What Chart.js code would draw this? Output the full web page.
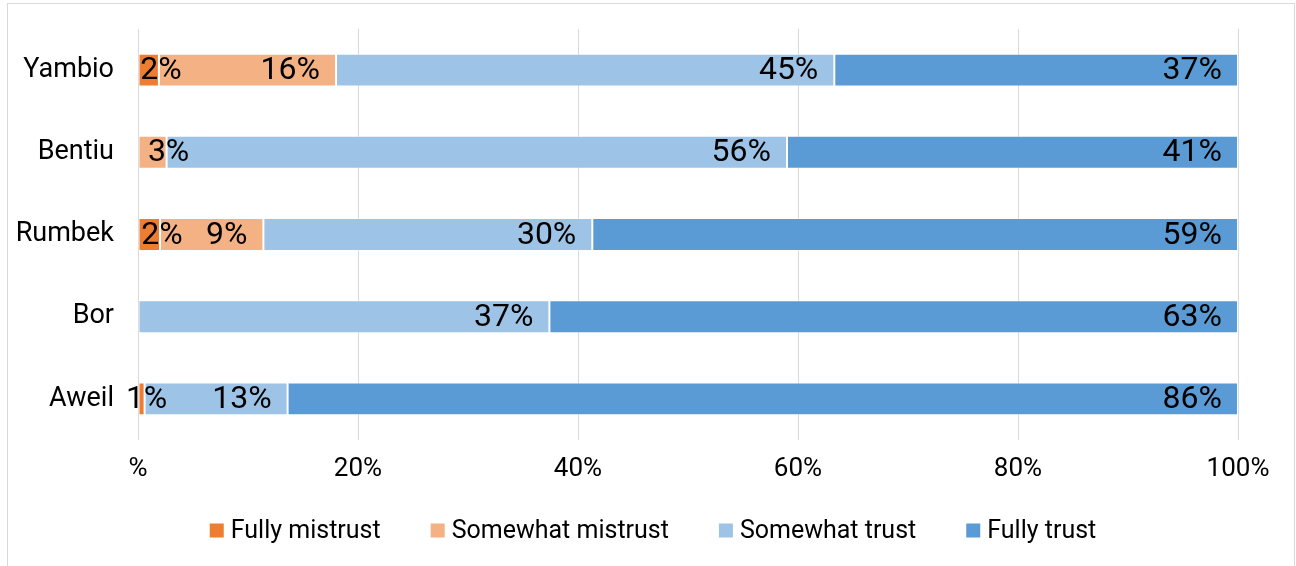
<!DOCTYPE html>
<html>
<head>
<meta charset="utf-8">
<script src="https://cdn.jsdelivr.net/npm/chart.js@4/dist/chart.umd.min.js"></script>
<style>
  html, body { margin: 0; padding: 0; background: #fff; }
  #wrap { width: 1296px; height: 566px; position: relative; }
</style>
</head>
<body>
<div id="wrap"><canvas id="c" width="1296" height="566"></canvas></div>
<script>
const categories = ['Yambio', 'Bentiu', 'Rumbek', 'Bor', 'Aweil'];
const seriesNames = ['Fully mistrust', 'Somewhat mistrust', 'Somewhat trust', 'Fully trust'];
const fullyMistrust = [1.9, 0, 2.0, 0, 0.6];
const somewhatMistrust = [16.1, 2.6, 9.4, 0, 0];
const somewhatTrust = [45.3, 56.4, 29.9, 37.4, 13.0];
const fullyTrust = [36.7, 41.0, 58.7, 62.6, 86.4];
const xTickLabels = ['%', '20%', '40%', '60%', '80%', '100%'];
const colors = ['#ED7D31', '#F4B183', '#9DC3E6', '#5B9BD5'];

const FONT = 'Roboto';

const frame = {
  id: 'frame',
  beforeDraw(chart) {
    const ctx = chart.ctx;
    ctx.save();
    ctx.fillStyle = '#fff';
    ctx.fillRect(0, 0, chart.width, chart.height);
    ctx.strokeStyle = '#d9d9d9';
    ctx.lineWidth = 1;
    ctx.strokeRect(7.5, 3.5, 1287, 700);
    ctx.restore();
  }
};

const barLabels = {
  id: 'barLabels',
  afterDatasetsDraw(chart) {
    const ctx = chart.ctx;
    ctx.save();
    ctx.font = '32px ' + FONT;
    ctx.fillStyle = '#000';
    ctx.textBaseline = 'middle';
    const pad = 16;
    chart.data.datasets.forEach((ds, di) => {
      const meta = chart.getDatasetMeta(di);
      meta.data.forEach((el, i) => {
        const v = ds.data[i];
        if (!v) return;
        const txt = Math.round(v) + '%';
        const p = el.getProps(['x', 'base', 'y'], true);
        const w = ctx.measureText(txt).width;
        const segW = p.x - p.base;
        if (segW >= w + 2 * pad) {
          ctx.textAlign = 'right';
          ctx.fillText(txt, p.x - pad, p.y + 1);
        } else {
          ctx.textAlign = 'center';
          ctx.fillText(txt, p.x + 2, p.y + 1);
        }
      });
    });
    ctx.restore();
  }
};

const customLegend = {
  id: 'customLegend',
  afterDraw(chart) {
    const ctx = chart.ctx;
    ctx.save();
    ctx.font = '25px ' + FONT;
    ctx.textBaseline = 'middle';
    ctx.textAlign = 'left';
    const box = 14, gapText = 7, gapItem = 50, cy = 530.5, cx = 653;
    const widths = seriesNames.map(n => box + gapText + ctx.measureText(n).width);
    const total = widths.reduce((a, b) => a + b, 0) + gapItem * (widths.length - 1);
    let x = cx - total / 2;
    seriesNames.forEach((n, i) => {
      ctx.fillStyle = colors[i];
      ctx.fillRect(x, cy - box / 2, box, box);
      ctx.fillStyle = '#000';
      ctx.fillText(n, x + box + gapText, cy + 1);
      x += widths[i] + gapItem;
    });
    ctx.restore();
  }
};

const seriesData = [fullyMistrust, somewhatMistrust, somewhatTrust, fullyTrust];

new Chart(document.getElementById('c'), {
  type: 'bar',
  data: {
    labels: categories,
    datasets: seriesNames.map((n, i) => ({
      label: n,
      data: seriesData[i],
      backgroundColor: colors[i],
      borderColor: 'rgba(255,255,255,0.45)',
      borderWidth: 1,
      borderSkipped: false,
      barPercentage: 0.4,
      categoryPercentage: 1.0
    }))
  },
  options: {
    indexAxis: 'y',
    responsive: false,
    maintainAspectRatio: false,
    devicePixelRatio: 1,
    animation: false,
    layout: { padding: { left: 0, right: 58, top: 29, bottom: 0 } },
    plugins: {
      legend: { display: false },
      tooltip: { enabled: false },
      title: { display: false }
    },
    scales: {
      x: {
        stacked: true,
        min: 0,
        max: 100,
        ticks: {
          stepSize: 20,
          padding: 14,
          color: '#000',
          font: { family: FONT, size: 26 },
          callback: (v, i) => xTickLabels[i]
        },
        grid: { color: '#d9d9d9', lineWidth: 1, drawTicks: false },
        border: { display: false },
        afterFit(scale) { scale.height = 126; }
      },
      y: {
        stacked: true,
        ticks: {
          padding: 24,
          color: '#000',
          font: { family: FONT, size: 27 }
        },
        grid: { display: false, drawTicks: false },
        border: { display: false },
        afterFit(scale) {
          scale.width = 138;
          scale.paddingTop = 0;
          scale.paddingBottom = 0;
        }
      }
    }
  },
  plugins: [frame, barLabels, customLegend]
});
</script>
</body>
</html>
